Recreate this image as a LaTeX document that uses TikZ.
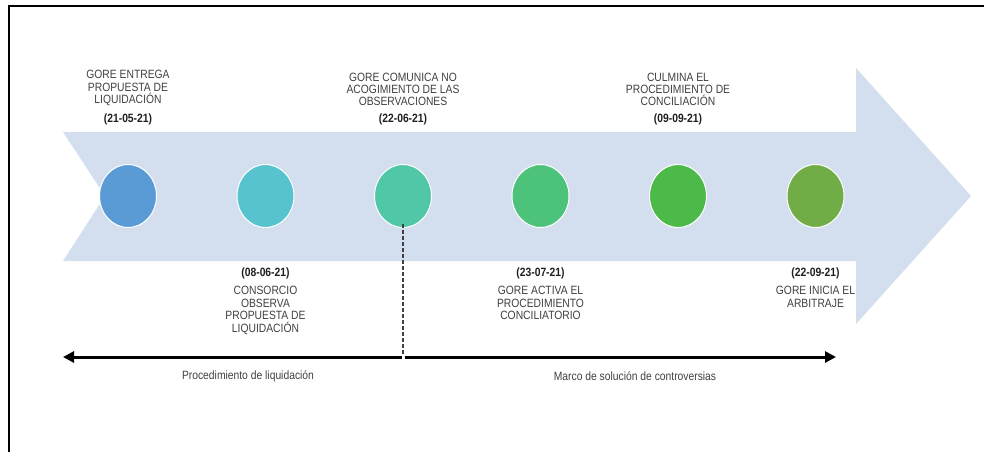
\documentclass[tikz,border=0pt]{standalone}
\usepackage{fontspec}
\setmainfont{Liberation Sans}[FakeStretch=0.86]
\usetikzlibrary{shapes.geometric,positioning,arrows.meta}

\definecolor{bandblue}{HTML}{D3DEEF}
\definecolor{descgray}{HTML}{404040}
\definecolor{dategray}{HTML}{1F1F1F}
\definecolor{dotA}{HTML}{5B9BD5}
\definecolor{dotB}{HTML}{56C3CF}
\definecolor{dotC}{HTML}{50C8A8}
\definecolor{dotD}{HTML}{4CC27A}
\definecolor{dotE}{HTML}{4BBA48}
\definecolor{dotF}{HTML}{70AD47}

\newdimen\stepDist
\stepDist=137.5pt

\begin{document}
\begin{tikzpicture}[
    x=1pt, y=-1pt,
    eventdot/.style={%
      ellipse,
      draw=white,
      line width=1pt,
      minimum width=57pt,
      minimum height=63pt,
      inner sep=0pt,
    },
    desctext/.style={%
      align=center,
      text=descgray,
      inner sep=0pt,
      font=\fontsize{12}{12.4}\selectfont,
    },
    datetext/.style={%
      text=dategray,
      inner sep=0pt,
      font=\fontsize{12}{12.4}\selectfont\bfseries,
    },
    spanline/.style={%
      line width=3pt,
      -{Triangle[length=11pt,width=11pt]},
    },
  ]

    \useasboundingbox (0,0) rectangle (984,452);
    \draw [line width=2pt] (984,6) -- (9,6) -- (9,452);

    \fill [bandblue] (63,132) -- (856,132) -- (856,68) -- (971,196)
      -- (856,324) -- (856,261) -- (63,261) -- (105,196) -- cycle;

    \node [eventdot, fill=dotA] (e1) at (128,196) {};
    \path (e1) ++(\stepDist,0) node [eventdot, fill=dotB] (e2) {};
    \path (e2) ++(\stepDist,0) node [eventdot, fill=dotC] (e3) {};
    \path (e3) ++(\stepDist,0) node [eventdot, fill=dotD] (e4) {};
    \path (e4) ++(\stepDist,0) node [eventdot, fill=dotE] (e5) {};
    \path (e5) ++(\stepDist,0) node [eventdot, fill=dotF] (e6) {};

    \node [datetext] (d1) at (e1 |- 0,119) {(21-05-21)};
    \node [desctext, above=7pt of d1] (t1) {GORE ENTREGA\\PROPUESTA DE\\LIQUIDACIÓN};
    \node [datetext] (d3) at (e3 |- 0,119) {(22-06-21)};
    \node [desctext, above=7pt of d3] (t3) {GORE COMUNICA NO\\ACOGIMIENTO DE LAS\\OBSERVACIONES};
    \node [datetext] (d5) at (e5 |- 0,119) {(09-09-21)};
    \node [desctext, above=7pt of d5] (t5) {CULMINA EL\\PROCEDIMIENTO DE\\CONCILIACIÓN};

    \node [datetext] (d2) at (e2 |- 0,273) {(08-06-21)};
    \node [desctext, below=7.5pt of d2] (t2) {CONSORCIO\\OBSERVA\\PROPUESTA DE\\LIQUIDACIÓN};
    \node [datetext] (d4) at (e4 |- 0,273) {(23-07-21)};
    \node [desctext, below=7.5pt of d4] (t4) {GORE ACTIVA EL\\PROCEDIMIENTO\\CONCILIATORIO};
    \node [datetext] (d6) at (e6 |- 0,273) {(22-09-21)};
    \node [desctext, below=7.5pt of d6] (t6) {GORE INICIA EL\\ARBITRAJE};

    \coordinate (split) at (e3 |- 0,357);
    \coordinate (startL) at (63,357);
    \coordinate (endR) at (836,357);

    \draw [spanline] ([xshift=-1.5pt]split) -- (startL);
    \draw [spanline] ([xshift=1.5pt]split) -- (endR);
    \draw [descgray, line width=1.6pt, dash pattern=on 4pt off 2pt]
      ([yshift=4pt]e3.south) -- ([yshift=2pt]split);

    \node [desctext] (phaseA) at (248,376) {Procedimiento de liquidación};
    \node [desctext] (phaseB) at (635,376) {Marco de solución de controversias};
\end{tikzpicture}
\end{document}
